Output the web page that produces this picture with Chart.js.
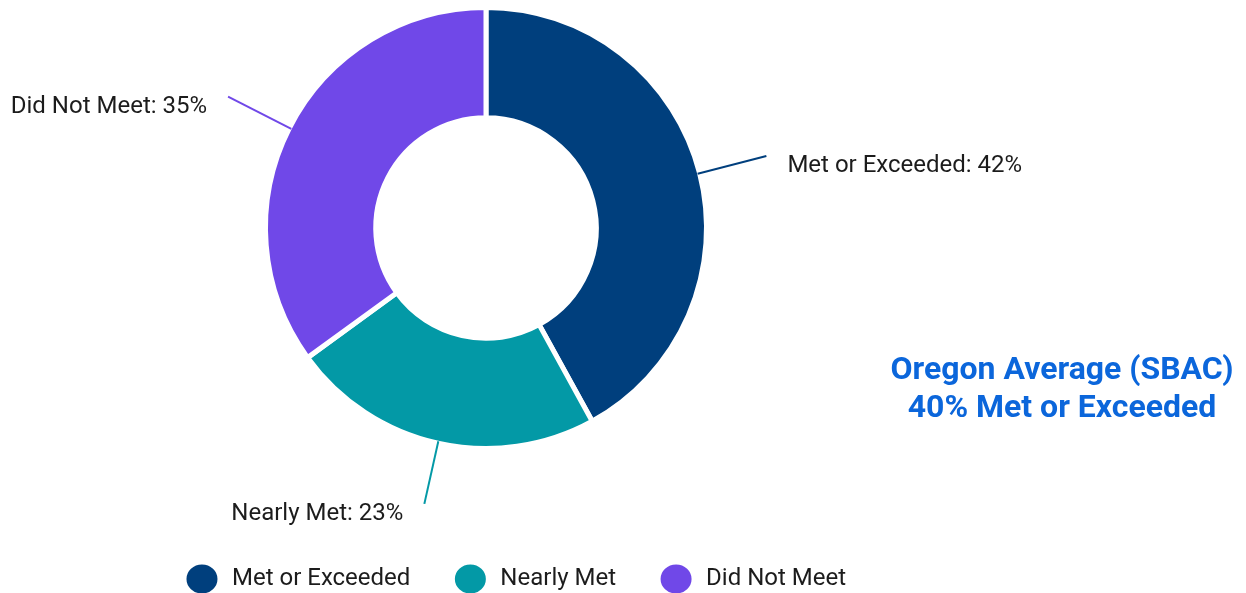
<!DOCTYPE html>
<html>
<head>
<meta charset="utf-8">
<script src="https://cdn.jsdelivr.net/npm/chart.js@4/dist/chart.umd.min.js"></script>
<style>
html,body{margin:0;padding:0;background:#fff;}
#wrap{position:relative;width:1246px;height:593px;}
</style>
</head>
<body>
<div id="wrap"><canvas id="c" width="1246" height="593"></canvas></div>
<script>
const categories = ['Met or Exceeded', 'Nearly Met', 'Did Not Meet'];
const values = [42, 23, 35];
const colors = ['#003f7d', '#0399a6', '#7048e8'];
const noteLines = ['Oregon Average (SBAC)', '40% Met or Exceeded'];

const FONT = 'Roboto, "Noto Sans", sans-serif';

const calloutPlugin = {
  id: 'callouts',
  afterDatasetsDraw(chart) {
    const ctx = chart.ctx;
    const meta = chart.getDatasetMeta(0);
    ctx.save();
    meta.data.forEach((arc, i) => {
      const p = arc.getProps(['x', 'y', 'startAngle', 'endAngle', 'outerRadius'], true);
      const mid = (p.startAngle + p.endAngle) / 2;
      const c = Math.cos(mid), s = Math.sin(mid);
      const r0 = p.outerRadius - 2;
      const r1 = p.outerRadius + 69 - 7 * Math.max(0, s);
      const x0 = p.x + c * r0, y0 = p.y + s * r0;
      const x1 = p.x + c * r1, y1 = p.y + s * r1;
      ctx.strokeStyle = colors[i];
      ctx.lineWidth = 2;
      ctx.beginPath();
      ctx.moveTo(x0, y0);
      ctx.lineTo(x1, y1);
      ctx.stroke();
      ctx.fillStyle = '#1c1c1c';
      ctx.font = '24px ' + FONT;
      ctx.textBaseline = 'middle';
      const right = c >= 0;
      ctx.textAlign = right ? 'left' : 'right';
      ctx.fillText(categories[i] + ': ' + values[i] + '%', x1 + (right ? 21 : -21), y1 + 10);
    });
    ctx.fillStyle = '#0b66db';
    ctx.font = 'bold 32px ' + FONT;
    ctx.textAlign = 'center';
    ctx.textBaseline = 'middle';
    ctx.fillText(noteLines[0], 1062, 371);
    ctx.fillText(noteLines[1], 1062, 409);
    ctx.restore();
  }
};

new Chart(document.getElementById('c'), {
  type: 'doughnut',
  data: {
    labels: categories,
    datasets: [{
      data: values,
      backgroundColor: colors,
      borderColor: '#ffffff',
      borderWidth: 5,
      hoverOffset: 0
    }]
  },
  options: {
    responsive: false,
    animation: false,
    cutout: '50%',
    layout: { padding: { top: 5, left: 0, right: 216, bottom: -8 } },
    plugins: {
      tooltip: { enabled: false },
      title: { display: true, position: 'right', text: ' ', fullSize: false, font: { size: 10 }, padding: { top: 46, bottom: 0 } },
      subtitle: { display: true, position: 'bottom', weight: 500, text: ' ', font: { size: 10 }, padding: { top: 62, bottom: 0 } },
      legend: {
        position: 'bottom',
        labels: {
          usePointStyle: true,
          pointStyle: 'circle',
          pointStyleWidth: 36,
          padding: 42,
          color: '#1c1c1c',
          font: { family: FONT, size: 24 }
        }
      }
    }
  },
  plugins: [calloutPlugin]
});
</script>
</body>
</html>
